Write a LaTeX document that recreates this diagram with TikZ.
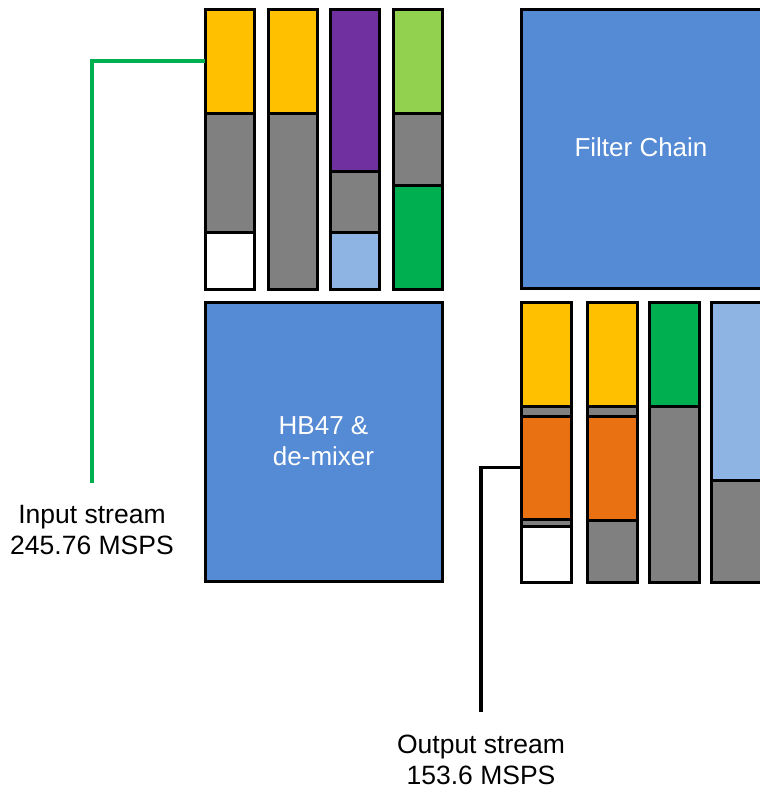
\documentclass[tikz,border=0pt]{standalone}
\usepackage{fontspec}
\setmainfont{Liberation Sans}
\definecolor{cYellow}{HTML}{FFC000}
\definecolor{cGray}{HTML}{808080}
\definecolor{cPurple}{HTML}{7030A0}
\definecolor{cLime}{HTML}{92D050}
\definecolor{cGreen}{HTML}{00B050}
\definecolor{cSky}{HTML}{8EB4E3}
\definecolor{cOrange}{HTML}{E97112}
\definecolor{cBlue}{HTML}{558AD4}
\begin{document}
\begin{tikzpicture}[x=1pt,y=-1pt,
  seg/.style={draw=black, line width=3pt, inner sep=0pt, outer sep=0pt, anchor=north west},
  block/.style={seg, fill=cBlue, text=white, align=center, font=\fontsize{26}{31}\selectfont},
  lbl/.style={inner sep=0pt, align=center, font=\fontsize{26.5}{31}\selectfont},
  wire/.style={line width=3.4pt}]
\useasboundingbox (0,0) rectangle (760,793);

% input-side buffer columns
\node[seg, fill=cYellow, minimum width=49pt, minimum height=104pt] (a1) at (205,9) {};
\node[seg, fill=cGray,   minimum width=49pt, minimum height=119pt] (a2) at (205,113) {};
\node[seg, fill=white,   minimum width=49pt, minimum height=57pt]  (a3) at (205,232) {};

\node[seg, fill=cYellow, minimum width=49pt, minimum height=104pt] (b1) at (268,9) {};
\node[seg, fill=cGray,   minimum width=49pt, minimum height=176pt] (b2) at (268,113) {};

\node[seg, fill=cPurple, minimum width=49pt, minimum height=162pt] (c1) at (330,9) {};
\node[seg, fill=cGray,   minimum width=49pt, minimum height=61pt]  (c2) at (330,171) {};
\node[seg, fill=cSky,    minimum width=49pt, minimum height=57pt]  (c3) at (330,232) {};

\node[seg, fill=cLime,   minimum width=49pt, minimum height=104pt] (d1) at (393,9) {};
\node[seg, fill=cGray,   minimum width=49pt, minimum height=72pt]  (d2) at (393,113) {};
\node[seg, fill=cGreen,  minimum width=49pt, minimum height=104pt] (d3) at (393,185) {};

% processing blocks
\node[block, minimum width=245pt, minimum height=279pt] (filt) at (521,9) {};
\node[text=white, font=\fontsize{26}{31}\selectfont] (filttxt) at (641,147) {Filter Chain};
\node[block, minimum width=237pt, minimum height=279pt] (hb) at (205,302) {HB47 \&\\de-mixer};

% output-side buffer columns
\node[seg, fill=cYellow, minimum width=50pt, minimum height=104pt] (e1) at (521,302) {};
\node[seg, fill=cGray,   minimum width=50pt, minimum height=10pt]  (e2) at (521,406) {};
\node[seg, fill=cOrange, minimum width=50pt, minimum height=103pt] (e3) at (521,416) {};
\node[seg, fill=cGray,   minimum width=50pt, minimum height=7pt]   (e4) at (521,519) {};
\node[seg, fill=white,   minimum width=50pt, minimum height=56pt]  (e5) at (521,526) {};

\node[seg, fill=cYellow, minimum width=50pt, minimum height=104pt] (f1) at (587,302) {};
\node[seg, fill=cGray,   minimum width=50pt, minimum height=10pt]  (f2) at (587,406) {};
\node[seg, fill=cOrange, minimum width=50pt, minimum height=104pt] (f3) at (587,416) {};
\node[seg, fill=cGray,   minimum width=50pt, minimum height=62pt]  (f4) at (587,520) {};

\node[seg, fill=cGreen,  minimum width=50pt, minimum height=104pt] (g1) at (649,302) {};
\node[seg, fill=cGray,   minimum width=50pt, minimum height=176pt] (g2) at (649,406) {};

\node[seg, fill=cSky,    minimum width=55pt, minimum height=178pt] (h1) at (711,302) {};
\node[seg, fill=cGray,   minimum width=55pt, minimum height=102pt] (h2) at (711,480) {};

% stream labels and their leads
\node[lbl] (inlbl) at (92,530) {Input stream\\245.76 MSPS};
\node[lbl] (outlbl) at (481,760) {Output stream\\153.6 MSPS};
\coordinate (inend) at (92,483);
\coordinate (outend) at (481,712);

\draw[wire, draw=cGreen] (a1.west) -| (inend);
\draw[wire, draw=black] (e3.west) -| (outend);
\end{tikzpicture}
\end{document}
